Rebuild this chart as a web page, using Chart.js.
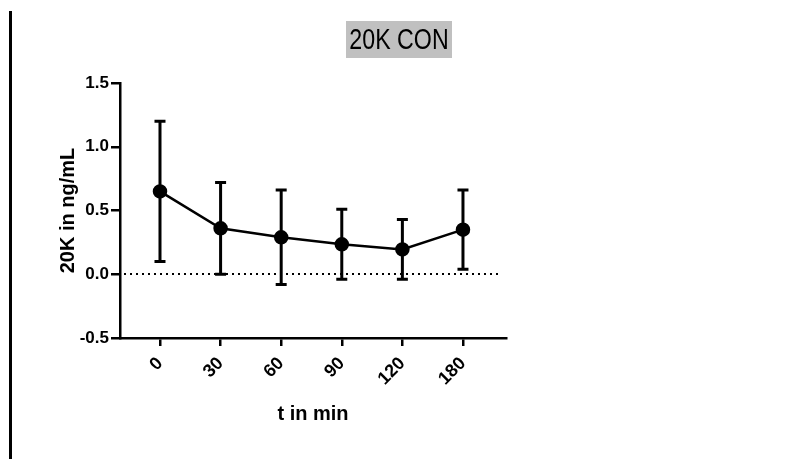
<!DOCTYPE html>
<html>
<head>
<meta charset="utf-8">
<script src="https://cdn.jsdelivr.net/npm/chart.js@4"></script>
<style>
  html, body { margin: 0; padding: 0; background: #fff; }
  #wrap { width: 792px; height: 459px; }
</style>
</head>
<body>
<div id="wrap"><canvas id="conChart" width="792" height="459"></canvas></div>
<script>
// data
const timeLabels = ['0', '30', '60', '90', '120', '180'];
const meanValues = [0.65, 0.36, 0.29, 0.235, 0.195, 0.35];
const sdValues = [0.55, 0.36, 0.37, 0.275, 0.235, 0.31];
const yTicks = [-0.5, 0, 0.5, 1.0, 1.5];
const chartTitle = '20K CON';

const points = meanValues.map((v, i) => ({ x: i, y: v }));

// title box, left rule, zero line and error bars
const extras = {
  id: 'extras',
  beforeDatasetsDraw(chart) {
    const ctx = chart.ctx;
    const x = chart.scales.x, y = chart.scales.y;
    const area = chart.chartArea;
    ctx.save();
    // dotted zero line
    ctx.strokeStyle = '#000';
    ctx.lineWidth = 2;
    ctx.setLineDash([2, 4]);
    const y0 = Math.round(y.getPixelForValue(0));
    ctx.beginPath();
    ctx.moveTo(area.left + 4, y0);
    ctx.lineTo(area.right - 6, y0);
    ctx.stroke();
    ctx.setLineDash([]);
    // error bars
    ctx.lineWidth = 3;
    meanValues.forEach((m, i) => {
      const px = x.getPixelForValue(i);
      const top = y.getPixelForValue(m + sdValues[i]);
      const bot = y.getPixelForValue(m - sdValues[i]);
      ctx.beginPath();
      ctx.moveTo(px, top); ctx.lineTo(px, bot);
      ctx.moveTo(px - 5.5, top); ctx.lineTo(px + 5.5, top);
      ctx.moveTo(px - 5.5, bot); ctx.lineTo(px + 5.5, bot);
      ctx.stroke();
    });
    ctx.restore();
  },
  afterDraw(chart) {
    const ctx = chart.ctx;
    ctx.save();
    // left rule
    ctx.fillStyle = '#000';
    ctx.fillRect(9, 11, 3, 448);
    // title with grey box, text squeezed a bit like the original narrow face
    ctx.fillStyle = '#c0c0c0';
    ctx.fillRect(346, 21, 106, 37);
    ctx.fillStyle = '#000';
    ctx.font = '29px "Liberation Sans", Arial, sans-serif';
    ctx.textAlign = 'center';
    ctx.textBaseline = 'middle';
    ctx.translate(399, 41);
    ctx.scale(0.8, 1);
    ctx.fillText(chartTitle, 0, 0);
    ctx.restore();
  }
};

const tickFont = { family: '"Liberation Sans", Arial, sans-serif', size: 17, weight: 'bold' };
const xTickFont = { family: '"Liberation Sans", Arial, sans-serif', size: 18, weight: 'bold' };
const titleFont = { family: '"Liberation Sans", Arial, sans-serif', size: 20, weight: 'bold' };

new Chart(document.getElementById('conChart').getContext('2d'), {
  type: 'line',
  data: {
    datasets: [{
      data: points,
      borderColor: '#000',
      backgroundColor: '#000',
      borderWidth: 2.5,
      pointRadius: 6,
      pointHoverRadius: 6,
      tension: 0
    }]
  },
  options: {
    responsive: false,
    animation: false,
    events: [],
    layout: { padding: { left: 0, top: 83, right: 286, bottom: 0 } },
    plugins: { legend: { display: false }, tooltip: { enabled: false } },
    scales: {
      x: {
        type: 'linear',
        min: -0.66,
        max: 5.71,
        afterBuildTicks(scale) { scale.ticks = timeLabels.map((_, i) => ({ value: i })); },
        afterFit(scale) { scale.height = 121; },
        ticks: {
          color: '#000',
          font: xTickFont,
          minRotation: 45,
          maxRotation: 45,
          padding: 7,
          callback: (v) => timeLabels[v]
        },
        grid: { drawOnChartArea: false, color: '#000', lineWidth: 2.5, tickLength: 8 },
        border: { color: '#000', width: 2.5 },
        title: { display: true, text: 't in min', color: '#000', font: titleFont, padding: { top: 0, bottom: 33 } }
      },
      y: {
        min: -0.5,
        max: 1.5,
        afterBuildTicks(scale) { scale.ticks = yTicks.map(v => ({ value: v })); },
        afterFit(scale) { scale.width = 120; },
        ticks: {
          color: '#000',
          font: tickFont,
          padding: 2,
          callback: (v) => v.toFixed(1)
        },
        grid: { drawOnChartArea: false, color: '#000', lineWidth: 2.5, tickLength: 9 },
        border: { color: '#000', width: 2.5 },
        title: { display: true, text: '20K in ng/mL', color: '#000', font: titleFont, padding: { top: 56, bottom: 0 } }
      }
    }
  },
  plugins: [extras]
});
</script>
</body>
</html>
